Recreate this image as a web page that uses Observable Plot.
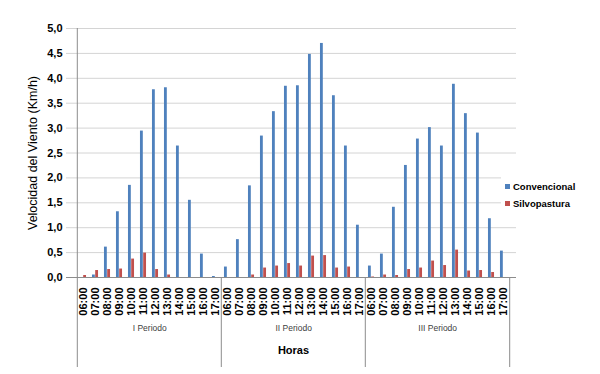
<!DOCTYPE html>
<html>
<head>
<meta charset="utf-8">
<script src="https://cdn.jsdelivr.net/npm/d3@7"></script>
<script src="https://cdn.jsdelivr.net/npm/@observablehq/plot@0.6"></script>
<style>
  body { margin: 0; background: #fff; font-family: "Liberation Sans", Arial, sans-serif; }
  #wrap { position: relative; width: 600px; height: 374px; }
  #chart svg [aria-label*="axis"] text { font-weight: bold; font-size: 11px; fill: #000; }
  #legend { position: absolute; left: 501px; top: 177px; width: 80px; height: 36px; background: #fff;
            font-size: 9.5px; font-weight: bold; color: #000; }
  #legend .item { position: absolute; left: 4px; height: 12px; line-height: 12px; white-space: nowrap; }
  #legend .sw { display: inline-block; width: 5px; height: 5px; margin-right: 3px; vertical-align: 1px; }
</style>
</head>
<body>
<div id="wrap">
  <div id="chart"></div>
  <div id="legend"></div>
</div>
<script>
const periods = ["I Periodo", "II Periodo", "III Periodo"];
const hours = ["06:00","07:00","08:00","09:00","10:00","11:00","12:00","13:00","14:00","15:00","16:00","17:00"];
const seriesNames = ["Convencional", "Silvopastura"];
const seriesColors = ["#4F81BD", "#C0504D"];

const convencionalI   = [0.00, 0.05, 0.61, 1.32, 1.85, 2.94, 3.77, 3.81, 2.64, 1.55, 0.47, 0.02];
const silvopasturaI   = [0.04, 0.14, 0.16, 0.17, 0.37, 0.49, 0.16, 0.05, 0.00, 0.00, 0.00, 0.00];
const convencionalII  = [0.21, 0.76, 1.84, 2.84, 3.33, 3.84, 3.85, 4.48, 4.70, 3.65, 2.64, 1.05];
const silvopasturaII  = [0.00, 0.00, 0.05, 0.19, 0.23, 0.28, 0.23, 0.43, 0.44, 0.19, 0.21, 0.00];
const convencionalIII = [0.23, 0.47, 1.41, 2.25, 2.78, 3.01, 2.64, 3.88, 3.29, 2.90, 1.18, 0.53];
const silvopasturaIII = [0.01, 0.05, 0.04, 0.16, 0.19, 0.33, 0.24, 0.55, 0.13, 0.14, 0.10, 0.00];

const yTicks = [0, 0.5, 1, 1.5, 2, 2.5, 3, 3.5, 4, 4.5, 5];
const yTitle = "Velocidad del Viento (Km/h)";
const xTitle = "Horas";

const convBy = [convencionalI, convencionalII, convencionalIII];
const silvoBy = [silvopasturaI, silvopasturaII, silvopasturaIII];
const rows = [];
periods.forEach((p, pi) => hours.forEach((h, hi) => {
  rows.push({key: p + "|" + h, period: p, hour: h, conv: convBy[pi][hi], silvo: silvoBy[pi][hi]});
}));
const keys = rows.map(d => d.key);

const W = 600, H = 374, mL = 70, mR = 84, mT = 28, mB = 97;
const bw = (W - mL - mR) / keys.length;
const fmt = d => d.toFixed(1).replace(".", ",");

const chart = Plot.plot({
  width: W, height: H,
  marginLeft: mL, marginRight: mR, marginTop: mT, marginBottom: mB,
  style: {fontFamily: "'Liberation Sans', Arial, sans-serif", fontSize: "11px", background: "#fff", color: "#000", overflow: "visible"},
  x: {type: "band", domain: keys, padding: 0, tickFormat: k => k.split("|")[1], tickRotate: -90,
      tickSize: 0, tickPadding: 10, label: null},
  y: {domain: [0, 5], ticks: yTicks, tickFormat: fmt, tickSize: 0, tickPadding: 8, label: null},
  marks: [
    Plot.ruleY(yTicks.filter(t => t > 0), {stroke: "#d4d4d4", insetLeft: -4}),
    Plot.barY(rows, {x: "key", y: "conv", fill: seriesColors[0], insetLeft: bw * 0.24, insetRight: bw * 0.50}),
    Plot.barY(rows, {x: "key", y: "silvo", fill: seriesColors[1], insetLeft: bw * 0.50, insetRight: bw * 0.24}),
    Plot.ruleY([0], {stroke: "#8c8c8c", insetLeft: -4}),
    Plot.ruleX([keys[0]], {x: d => d, dx: -bw / 2, stroke: "#8c8c8c", insetBottom: -90}),
    Plot.ruleX(periods.slice(1).map(p => p + "|" + hours[0]), {x: d => d, y1: 0, y2: 0, dx: -bw / 2, stroke: "#8c8c8c", insetBottom: -90}),
    Plot.ruleX([keys[keys.length - 1]], {x: d => d, y1: 0, y2: 0, dx: bw / 2, stroke: "#8c8c8c", insetBottom: -90}),
    Plot.text(periods, {x: p => p + "|" + hours[5], text: p => p, frameAnchor: "bottom", dx: bw / 2, dy: 53,
      fontSize: 8.5, fill: "#404040"}),
    Plot.text([xTitle], {text: d => d, frameAnchor: "bottom", textAnchor: "middle", dy: 76, fontSize: 11, fontWeight: "bold", fill: "#000"}),
    Plot.text([yTitle], {text: d => d, frameAnchor: "left", textAnchor: "middle", dx: -38, rotate: -90, fontSize: 12.5, fill: "#000"})
  ]
});
document.getElementById("chart").appendChild(chart);

const legend = d3.select("#legend");
seriesNames.forEach((name, i) => {
  const item = legend.append("div").attr("class", "item").style("top", (4 + i * 17) + "px");
  item.append("span").attr("class", "sw").style("background", seriesColors[i]);
  item.append("span").text(name);
});
</script>
</body>
</html>
